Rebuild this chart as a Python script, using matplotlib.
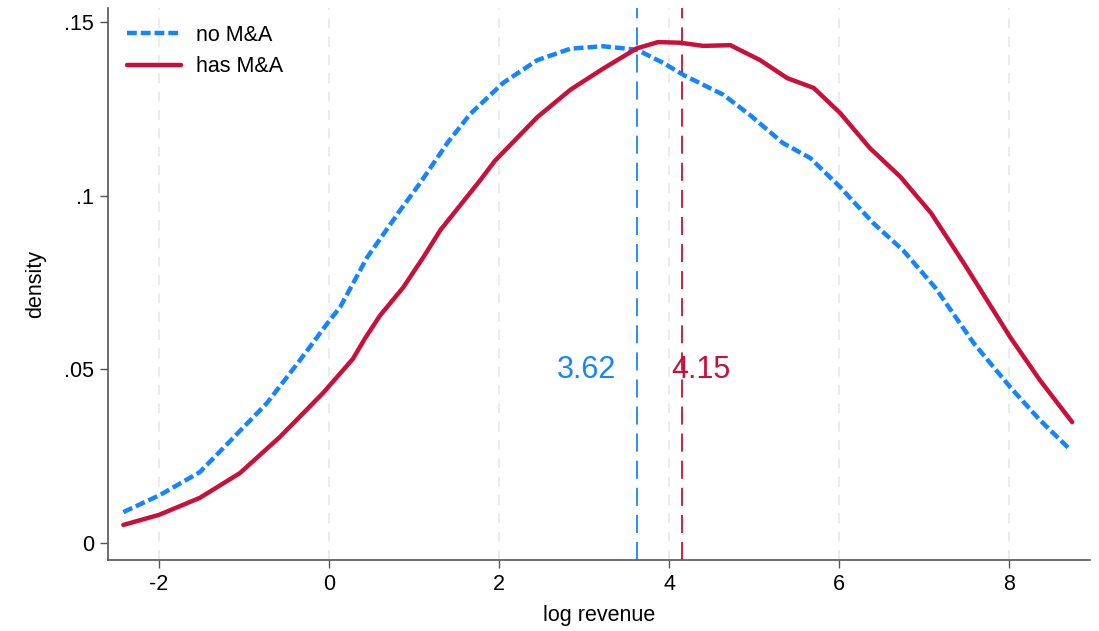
import matplotlib
matplotlib.use("Agg")
from matplotlib import pyplot as plt

plt.rcParams["font.family"] = ["Liberation Sans", "DejaVu Sans"]
plt.rcParams["axes.unicode_minus"] = False

# kernel density of log revenue, firms without / with M&A
x_no = [-2.42, -1.99, -1.52, -1.13, -0.73, -0.34, 0.01, 0.13, 0.45, 0.84, 1.07,
        1.39, 1.66, 2.05, 2.45, 2.84, 3.22, 3.62, 3.93, 4.17, 4.64, 4.95, 5.34,
        5.66, 6.01, 6.40, 6.75, 7.13, 7.58, 8.01, 8.36, 8.72]
y_no = [.0089, .0138, .0204, .0302, .0403, .0527, .0642, .0679, .0823, .0959, .1036,
        .1151, .1235, .1325, .1390, .1423, .1430, .1420, .1382, .1347, .1290, .1232, .1151,
        .1108, .1025, .0921, .0843, .0735, .0576, .0449, .0354, .0268]

x_ma = [-2.42, -2.0, -1.52, -1.05, -0.58, -0.07, 0.28, 0.42, 0.6, 0.87, 1.11, 1.31,
        1.78, 1.95, 2.45, 2.84, 3.22, 3.62, 3.87, 4.13, 4.40, 4.72, 5.07, 5.39,
        5.70, 6.01, 6.36, 6.72, 7.08, 7.48, 8.01, 8.36, 8.74]
y_ma = [.0052, .0081, .0130, .0201, .0305, .0432, .0530, .0588, .0655, .0735, .0823, .0901,
        .1045, .1100, .1226, .1305, .1365, .1424, .1442, .1440, .1431, .1433, .1390, .1338,
        .1310, .1238, .1137, .1054, .0950, .0800, .0593, .0469, .0348]

mean_no = 3.62
mean_ma = 4.15

blue = "#1485FF"
red = "#C8103A"

fig = plt.figure(figsize=(10.99, 6.31), dpi=100)
ax = fig.add_axes([0.0983, 0.1125, 0.8935, 0.8748])

for gx in [-2, 0, 2, 4, 6, 8]:
    ax.axvline(gx, color="#e8e8e8", lw=1.2, dashes=(6, 5), zorder=0)

ax.plot(x_no, y_no, color=blue, lw=3.2, dashes=(2.2, 0.9), label="no M&A",
        dash_capstyle="butt", dash_joinstyle="round")
ax.plot(x_ma, y_ma, color=red, lw=3.2, label="has M&A",
        solid_capstyle="round", solid_joinstyle="round")

ax.axvline(mean_no, color=blue, lw=1.3, dashes=(10, 5))
ax.axvline(mean_ma, color=red, lw=1.3, dashes=(10, 5))
ax.text(mean_no - 0.24, 0.0497, f"{mean_no:.2f}", color=blue, fontsize=22,
        ha="right", va="center")
ax.text(mean_ma - 0.13, 0.0497, f"{mean_ma:.2f}", color=red, fontsize=22,
        ha="left", va="center")

ax.set_xlim(-2.6, 8.95)
ax.set_ylim(-0.0049, 0.154)
ax.set_xticks([-2, 0, 2, 4, 6, 8])
ax.set_yticks([0, 0.05, 0.1, 0.15])
ax.set_yticklabels(["0", ".05", ".1", ".15"])
ax.tick_params(labelsize=15.5, length=6, width=1, color="#555555", pad=4)

for s in ["top", "right"]:
    ax.spines[s].set_visible(False)
for s in ["left", "bottom"]:
    ax.spines[s].set_color("#555555")
    ax.spines[s].set_linewidth(1.2)

ax.set_xlabel("log revenue", fontsize=15.5, labelpad=7)
ax.set_ylabel("density", fontsize=15.5, labelpad=13)

ax.legend(loc="upper left", frameon=False, fontsize=15.5, handlelength=2.5,
          handletextpad=0.7, bbox_to_anchor=(0.0, 1.005), borderaxespad=0.5,
          labelspacing=0.5)

fig.savefig("out.png", dpi=100)
